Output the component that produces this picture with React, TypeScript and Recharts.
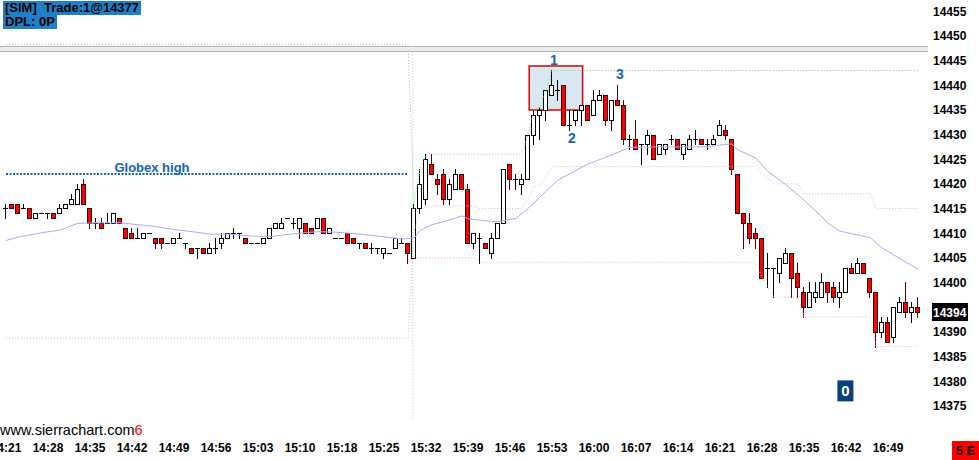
import React from "react";
import {
  ComposedChart,
  Bar,
  Line,
  XAxis,
  YAxis,
  ReferenceArea,
  ReferenceDot,
  ReferenceLine,
} from "recharts";

// one-minute bars, 14:21 .. 16:52
const timeLabels = [
  "14:21", "14:28", "14:35", "14:42", "14:49", "14:56", "15:03", "15:10", "15:18", "15:25", "15:32",
  "15:39", "15:46", "15:53", "16:00", "16:07", "16:14", "16:21", "16:28", "16:35", "16:42", "16:49",
];
const timeTickIdx = timeLabels.map((_, k) => k * 7);

const priceTicks = [14375, 14380, 14385, 14390, 14395, 14400, 14405, 14410, 14415, 14420, 14425, 14430, 14435, 14440, 14445, 14450, 14455];

const candleOpen = [
  14415, 14416, 14416, 14415, 14415, 14413, 14414, 14414, 14414, 14414,
  14415, 14416, 14416, 14420, 14415, 14412, 14412, 14412, 14412, 14413,
  14411, 14410, 14409, 14409, 14410, 14409, 14409, 14408, 14408, 14409,
  14408, 14407, 14407, 14407, 14406, 14407, 14408, 14409, 14410, 14410,
  14409, 14408, 14408, 14408, 14409, 14411, 14411, 14413, 14412, 14411,
  14412, 14411, 14411, 14413, 14410, 14409, 14409, 14410, 14409, 14408,
  14408, 14407, 14407, 14406, 14406, 14407, 14408, 14408, 14405, 14415,
  14417, 14424, 14421, 14422, 14417, 14419, 14422, 14419, 14408, 14409,
  14408, 14406, 14409, 14412, 14424, 14421, 14420, 14421, 14430, 14434,
  14435, 14438, 14439, 14440, 14432, 14433, 14435, 14436, 14434, 14437,
  14438, 14433, 14437, 14436, 14429, 14429, 14428, 14428, 14430, 14426,
  14427, 14429, 14429, 14426, 14427, 14429, 14429, 14428, 14428, 14430,
  14431, 14429, 14422, 14414, 14412, 14410, 14409, 14403, 14403, 14402,
  14404, 14406, 14402, 14398, 14395, 14397, 14397, 14400, 14399, 14397,
  14398, 14403, 14402, 14404, 14401, 14398, 14390, 14392, 14389, 14394,
  14396, 14394, 14395,
];
const candleHigh = [
  14416, 14416, 14416, 14416, 14415, 14414, 14414, 14414, 14414, 14416,
  14416, 14418, 14420, 14421, 14415, 14413, 14413, 14414, 14414, 14413,
  14411, 14411, 14411, 14410, 14410, 14409, 14409, 14408, 14409, 14410,
  14408, 14407, 14407, 14407, 14408, 14409, 14410, 14410, 14411, 14410,
  14409, 14408, 14408, 14409, 14411, 14412, 14413, 14413, 14413, 14413,
  14412, 14411, 14413, 14413, 14411, 14409, 14409, 14410, 14409, 14408,
  14408, 14408, 14407, 14407, 14406, 14409, 14409, 14408, 14416, 14423,
  14426, 14426, 14422, 14423, 14421, 14423, 14422, 14420, 14410, 14410,
  14408, 14410, 14412, 14423, 14424, 14422, 14422, 14430, 14435, 14435.5,
  14439, 14443, 14441, 14440, 14435, 14435, 14436, 14436, 14439, 14439,
  14438, 14437, 14440, 14437, 14430, 14433, 14428, 14431, 14430, 14428,
  14428, 14430, 14429, 14428, 14430, 14431, 14429, 14429, 14430, 14433,
  14432, 14429, 14422, 14414, 14414, 14411, 14409, 14406, 14403, 14405,
  14407, 14406, 14404, 14399, 14400, 14400, 14402, 14400, 14400, 14400,
  14403, 14404, 14405, 14404, 14401, 14398, 14393, 14393, 14395, 14397,
  14400, 14396, 14397,
];
const candleLow = [
  14413, 14415, 14414, 14415, 14413, 14413, 14414, 14413, 14413, 14414,
  14415, 14416, 14416, 14416, 14411, 14411, 14411, 14412, 14412, 14412,
  14409, 14409, 14409, 14409, 14410, 14407, 14407, 14408, 14408, 14409,
  14407, 14406, 14405, 14406, 14406, 14406, 14407, 14409, 14409, 14409,
  14408, 14408, 14408, 14408, 14409, 14411, 14411, 14413, 14411, 14409,
  14410, 14410, 14411, 14410, 14410, 14409, 14409, 14408, 14408, 14407,
  14407, 14406, 14406, 14405, 14406, 14407, 14408, 14404, 14405, 14414,
  14416, 14422, 14418, 14416, 14416, 14419, 14419, 14408, 14407, 14404,
  14407, 14405, 14409, 14412, 14419, 14419, 14418, 14421, 14428, 14429,
  14433, 14438, 14437, 14432, 14431, 14432, 14432, 14433, 14434, 14437,
  14432, 14431, 14436, 14428, 14427, 14427, 14424, 14426, 14425, 14426,
  14426, 14428, 14427, 14425, 14427, 14428, 14428, 14427, 14428, 14430,
  14429, 14422, 14414, 14407, 14408, 14407, 14401, 14399, 14397, 14400,
  14404, 14397, 14397, 14393, 14395, 14396, 14397, 14396, 14396, 14395,
  14398, 14402, 14402, 14402, 14397, 14387, 14389, 14388, 14388, 14394,
  14393, 14392, 14393,
];
const candleClose = [
  14415, 14415, 14414, 14415, 14413, 14414, 14414, 14414, 14413, 14415,
  14416, 14417, 14419, 14416, 14412, 14412, 14411, 14412, 14414, 14412,
  14409, 14409, 14409, 14410, 14410, 14408, 14408, 14408, 14409, 14409,
  14408, 14406, 14407, 14406, 14407, 14407, 14409, 14410, 14410, 14410,
  14408, 14408, 14408, 14409, 14411, 14412, 14412, 14413, 14412, 14413,
  14410, 14410, 14413, 14410, 14411, 14409, 14409, 14408, 14408, 14408,
  14407, 14407, 14407, 14407, 14406, 14409, 14408, 14406, 14415, 14420,
  14425, 14422, 14420, 14417, 14420, 14422, 14419, 14408, 14410, 14409,
  14407, 14409, 14412, 14423, 14421, 14421, 14421, 14430, 14434, 14435,
  14439, 14440, 14439, 14432, 14432, 14435, 14436, 14433, 14437, 14438,
  14433, 14437, 14436, 14429, 14429, 14427, 14428, 14430, 14425, 14428,
  14428, 14429, 14427, 14428, 14429, 14429, 14428, 14428, 14429, 14432,
  14430, 14423, 14414, 14412, 14409, 14409, 14401, 14403, 14403, 14405,
  14406, 14401, 14399, 14395, 14398, 14398, 14400, 14398, 14397, 14398,
  14403, 14402, 14404, 14402, 14398, 14390, 14392, 14388, 14395, 14396,
  14394, 14395, 14394,
];

// [bar index, price] points
const maPoints: [number, number][] = [
  [0, 14408.5], [2, 14409.2], [6, 14410.1], [9, 14410.6], [12, 14412.0], [16, 14412.1], [19, 14412.1],
  [22, 14411.7], [24, 14411.5], [27, 14410.9], [31, 14410.3], [34, 14409.8], [37, 14409.8], [41, 14409.4],
  [44, 14409.3], [46, 14409.6], [49, 14410.0], [52, 14410.3], [55, 14410.2], [59, 14409.8], [62, 14409.4],
  [66, 14408.8], [68, 14409.0], [69, 14410.5], [71, 14411.7], [74, 14412.7], [76, 14413.5], [77, 14412.9],
  [80, 14412.5], [82, 14412.3], [85, 14413.0], [87, 14415.0], [92, 14420.8], [97, 14424.0], [101, 14425.9],
  [104, 14427.4], [109, 14427.5], [113, 14427.5], [117, 14427.5], [119, 14427.9], [121, 14428.1], [122, 14426.9],
  [125, 14425.2], [127, 14422.5], [130, 14419.8], [133, 14416.7], [136, 14413.3], [137, 14412.0], [139, 14410.4],
  [142, 14409.6], [144, 14409.1], [146, 14407.0], [149, 14404.8], [152, 14402.7],
];
const sessionHighPoints: [number, number][] = [
  [0, 14448.2], [67, 14448.2], [68, 14416], [69, 14423], [70, 14426], [86, 14426], [87, 14430],
  [88, 14435], [89, 14435.5], [90, 14439], [91, 14443], [152, 14443],
];
const sessionLowPoints: [number, number][] = [
  [68, 14405], [78, 14405], [79, 14404], [125, 14404], [126, 14401], [127, 14399], [128, 14397],
  [132, 14397], [133, 14393], [144, 14393], [145, 14387], [152, 14387],
];
const sessionMidPoints: [number, number][] = [
  [0, 14388.7], [67, 14388.7], [68, 14410.5], [69, 14414], [70, 14415.5], [78, 14415.5], [79, 14415],
  [86, 14415], [87, 14417], [88, 14419.5], [89, 14419.75], [90, 14421.5], [91, 14423.5], [125, 14423.5],
  [126, 14422], [127, 14421], [128, 14420], [132, 14420], [133, 14418], [144, 14418], [145, 14415], [152, 14415],
];
const globexHighPoints: [number, number][] = [[0, 14422], [67, 14422]];

const lastPrice = candleClose[candleClose.length - 1];

const pick = (pts: [number, number][], i: number) => {
  const p = pts.find((q) => q[0] === i);
  return p ? p[1] : null;
};

const data = candleOpen.map((open, i) => ({
  i,
  open,
  high: candleHigh[i],
  low: candleLow[i],
  close: candleClose[i],
  range: [candleLow[i], candleHigh[i]],
  ma: pick(maPoints, i),
  hi: pick(sessionHighPoints, i),
  lo: pick(sessionLowPoints, i),
  mid: pick(sessionMidPoints, i),
  gx: pick(globexHighPoints, i),
}));

const FONT = '"Liberation Sans", Arial, sans-serif';

const Candle = (props: any) => {
  const { x, y, width, height, payload } = props;
  const { open, close, high, low } = payload;
  const cx = Math.round(x + width / 2);
  const k = high > low ? height / (high - low) : 0;
  const yOf = (v: number) => Math.round(y + (high - v) * k);
  const up = close > open;
  const down = close < open;
  const wick = down ? "#5a0000" : "#000";
  const top = yOf(Math.max(open, close));
  const bot = yOf(Math.min(open, close));
  return (
    <g shapeRendering="crispEdges">
      {high > low && (
        <line x1={cx + 0.5} x2={cx + 0.5} y1={yOf(high)} y2={yOf(low) + 1} stroke={wick} />
      )}
      {top === bot ? (
        <line x1={cx - 2} x2={cx + 3} y1={top + 0.5} y2={top + 0.5} stroke={wick} />
      ) : (
        <rect
          x={cx - 1.5}
          y={top + 0.5}
          width={4}
          height={bot - top}
          fill={up ? "#fff" : "#ff0000"}
          stroke={up ? "#000" : "#3a0000"}
        />
      )}
    </g>
  );
};

const TimeTick = (props: any) => {
  const { x, payload } = props;
  return (
    <text x={x} y={452} textAnchor="middle" fontFamily={FONT} fontWeight="bold" fontSize={12} fill="#000">
      {timeLabels[Math.round(payload.value / 7)]}
    </text>
  );
};

const PriceTick = (props: any) => {
  const { x, y, payload } = props;
  if (payload.value === lastPrice) {
    return (
      <g>
        <rect x={x - 1} y={y - 9} width={36} height={18} fill="#000" />
        <text x={x} y={y + 4.5} fontFamily={FONT} fontWeight="bold" fontSize={12} fill="#fff">
          {payload.value}
        </text>
      </g>
    );
  }
  return (
    <text x={x} y={y + 4.5} fontFamily={FONT} fontWeight="bold" fontSize={12} fill="#000">
      {payload.value}
    </text>
  );
};

const textDot = (txt: string, color: string, size: number) => (p: any) => (
  <text x={p.cx} y={p.cy + size * 0.36} textAnchor="middle" fontFamily={FONT} fontWeight="bold" fontSize={size} fill={color}>
    {txt}
  </text>
);

const boxDot = (p: any) => (
  <g>
    <rect x={p.cx - 8} y={p.cy - 10} width={16} height={21} fill="#073f7e" />
    <text x={p.cx} y={p.cy + 5.5} textAnchor="middle" fontFamily={FONT} fontWeight="bold" fontSize={15} fill="#fff">
      0
    </text>
  </g>
);

export default function App(): JSX.Element {
  return (
    <div style={{ position: "fixed", left: 0, top: 0, width: 979, height: 460, background: "#fff", overflow: "hidden" }}>
      <ComposedChart width={979} height={460} data={data} margin={{ top: 0, right: 0, bottom: 0, left: 0 }}>
        <XAxis
          dataKey="i"
          type="number"
          domain={[-1, 153.6667]}
          ticks={timeTickIdx}
          interval={0}
          allowDataOverflow
          axisLine={false}
          tickLine={false}
          tickSize={0}
          height={40}
          tick={<TimeTick />}
        />
        <YAxis
          orientation="right"
          width={51}
          domain={[14372.09, 14457.3]}
          ticks={[...priceTicks, lastPrice]}
          interval={0}
          allowDataOverflow
          axisLine={false}
          tickLine={false}
          tickSize={0}
          tickMargin={5}
          tick={<PriceTick />}
        />
        <ReferenceArea x1={87.2} x2={96.1} y1={14435} y2={14443.9} fill="#d9e8f1" fillOpacity={1} stroke="#e00000" strokeWidth={1.5} />
        <ReferenceLine
          segment={[{ x: 67.8, y: 14446.7 }, { x: 67.8, y: 14372.09 }]}
          stroke="#c4c4c4"
          strokeDasharray="1 2"
        />
        <Line dataKey="hi" stroke="#7ddc7d" strokeDasharray="1 2" dot={false} activeDot={false} connectNulls isAnimationActive={false} />
        <Line dataKey="lo" stroke="#ffb0b0" strokeDasharray="1 2" dot={false} activeDot={false} connectNulls isAnimationActive={false} />
        <Line dataKey="mid" stroke="#c4c4c4" strokeDasharray="1 2" dot={false} activeDot={false} connectNulls isAnimationActive={false} />
        <Line dataKey="gx" stroke="#1463b4" strokeWidth={2} strokeDasharray="2 1.5" dot={false} activeDot={false} connectNulls isAnimationActive={false} />
        <Line dataKey="ma" stroke="#b0a9f4" strokeWidth={1} dot={false} activeDot={false} connectNulls isAnimationActive={false} />
        <Bar dataKey="range" barSize={5} shape={<Candle />} activeBar={false} isAnimationActive={false} />
        <ReferenceDot x={24.33} y={14423.4} r={0} shape={textDot("Globex high", "#1463b4", 13)} />
        <ReferenceDot x={91.33} y={14445.2} r={0} shape={textDot("1", "#1766b5", 14)} />
        <ReferenceDot x={94.3} y={14429.4} r={0} shape={textDot("2", "#1766b5", 14)} />
        <ReferenceDot x={102.3} y={14442.2} r={0} shape={textDot("3", "#1766b5", 14)} />
        <ReferenceDot x={139.9} y={14378.1} r={0} shape={boxDot} />
      </ComposedChart>

      <div style={{ position: "absolute", left: 0, top: 46, width: 928, height: 6, background: "#ececec", borderTop: "1px solid #b8b8b8", borderBottom: "1px solid #b0b0b0", boxSizing: "border-box" }} />
      <div style={{ position: "absolute", left: 3, top: 1, background: "#1e80c6", color: "#000", font: `bold 13px ${FONT}`, lineHeight: "14px", padding: "0 2px", whiteSpace: "pre" }}>
        {"[SIM]  Trade:1@14377"}
      </div>
      <div style={{ position: "absolute", left: 3, top: 15, background: "#1e80c6", color: "#000", font: `bold 13px ${FONT}`, lineHeight: "14px", padding: "0 2px", whiteSpace: "pre" }}>
        {"DPL: 0P"}
      </div>
      <div style={{ position: "absolute", left: 0, top: 422, color: "#000", font: `14.5px ${FONT}`, lineHeight: "16px", whiteSpace: "pre" }}>
        www.sierrachart.com<span style={{ color: "#ff0000" }}>6</span>
      </div>
      <div style={{ position: "absolute", left: 952, top: 441, width: 27, height: 19, background: "#ff0000", color: "#000", font: `bold 13px ${FONT}`, lineHeight: "19px", textAlign: "center" }}>
        5 E
      </div>
    </div>
  );
}
